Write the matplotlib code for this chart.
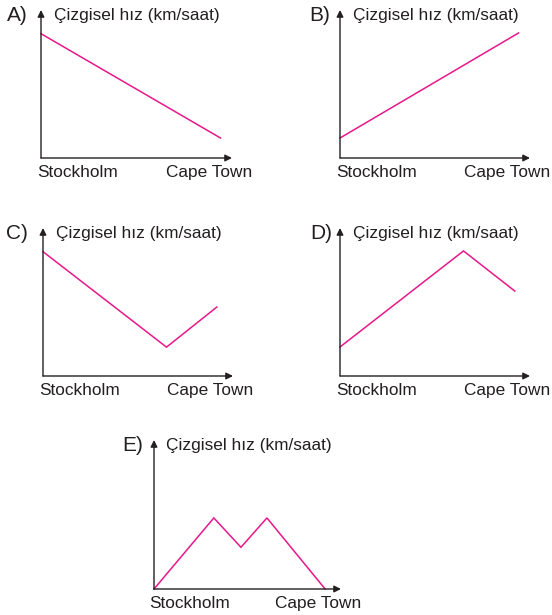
import matplotlib.pyplot as plt

plt.rcParams['font.family'] = ['Liberation Sans', 'DejaVu Sans']

# route position (0 = Stockholm, 1 = end of the axis) and relative speed
a_pos = [0.0, 0.94]
a_speed = [0.84, 0.135]
b_pos = [0.0, 0.94]
b_speed = [0.135, 0.845]
c_pos = [0.0, 0.65, 0.915]
c_speed = [0.84, 0.195, 0.466]
d_pos = [0.0, 0.65, 0.92]
d_speed = [0.196, 0.845, 0.574]
e_pos = [0.0, 0.32, 0.465, 0.604, 0.915]
e_speed = [0.0, 0.477, 0.28, 0.477, 0.0]

letters = ['A)', 'B)', 'C)', 'D)', 'E)']
y_label = 'Çizgisel hız (km/saat)'
x_start = 'Stockholm'
x_end = 'Cape Town'

W, H = 552, 615
# axes boxes in pixels: origin x, origin y (from top), width, height
boxes = [(41, 158, 191, 148), (340, 158, 190, 148), (43, 376, 190, 148),
         (340, 376, 190, 148), (154, 589, 187, 149)]
letter_x = [-0.068, -0.053, -0.079, -0.042, -0.059]
series = [(a_pos, a_speed), (b_pos, b_speed), (c_pos, c_speed),
          (d_pos, d_speed), (e_pos, e_speed)]

fig = plt.figure(figsize=(W / 100, H / 100), dpi=100)
line_col = '#e8178a'
axis_col = '#231f20'

for (px, py, pw, ph), (xs, ys), letter, lx in zip(boxes, series, letters, letter_x):
    ax = fig.add_axes([px / W, 1 - py / H, pw / W, ph / H])
    ax.set_xlim(0, 1)
    ax.set_ylim(0, 1)
    ax.axis('off')
    arrow = dict(arrowstyle='-|>', color=axis_col, lw=1.0, mutation_scale=10,
                 shrinkA=0, shrinkB=0)
    ax.annotate('', xy=(1, 0), xytext=(0, 0), xycoords='axes fraction', arrowprops=arrow)
    ax.annotate('', xy=(0, 1), xytext=(0, 0), xycoords='axes fraction', arrowprops=arrow)
    ax.plot(xs, ys, color=line_col, lw=1.1, clip_on=False, solid_joinstyle='miter')
    ax.text(0.066, 0.96, y_label, transform=ax.transAxes, ha='left', va='center',
            fontsize=12.4, color=axis_col)
    ax.text(lx, 0.965, letter, transform=ax.transAxes, ha='right', va='center',
            fontsize=15, color=axis_col)
    ax.text(0.19, -0.10, x_start, transform=ax.transAxes, ha='center', va='center',
            fontsize=12.4, color=axis_col)
    ax.text(0.88, -0.10, x_end, transform=ax.transAxes, ha='center', va='center',
            fontsize=12.4, color=axis_col)

fig.savefig('out.png', dpi=100, facecolor='white')
